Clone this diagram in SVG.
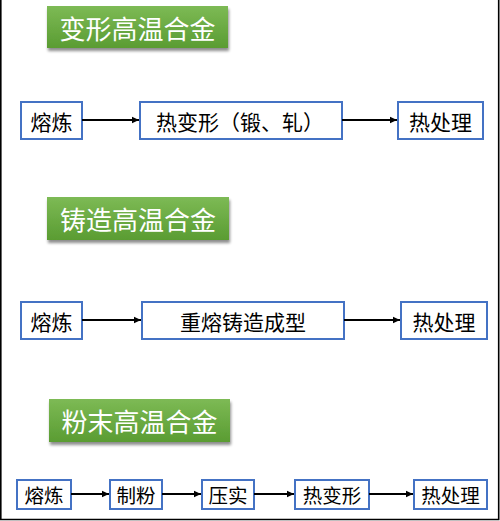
<svg xmlns="http://www.w3.org/2000/svg" width="500" height="521" viewBox="0 0 500 521">
<defs>
<linearGradient id="g" x1="0" y1="0" x2="0" y2="1">
<stop offset="0" stop-color="#7dba55"/>
<stop offset="1" stop-color="#5a9c32"/>
</linearGradient>
<filter id="sh" x="-10%" y="-20%" width="130%" height="160%">
<feGaussianBlur in="SourceAlpha" stdDeviation="1.5"/>
<feOffset dx="1" dy="3"/>
<feComponentTransfer><feFuncA type="linear" slope="0.45"/></feComponentTransfer>
<feMerge><feMergeNode/><feMergeNode in="SourceGraphic"/></feMerge>
</filter>
<marker id="ah" markerWidth="8" markerHeight="8" refX="7" refY="4" orient="auto" markerUnits="userSpaceOnUse">
<path d="M0,0.8 L7,4 L0,7.2 Z" fill="#000"/>
</marker>
</defs>
<style>
.t{fill:url(#g);filter:url(#sh)}
.tt{font-family:"Noto Sans CJK SC",sans-serif;font-size:26px;fill:#fff;text-anchor:middle;dominant-baseline:central}
.b{fill:#fff;stroke:#4472c4;stroke-width:2}
.bt{font-family:"Noto Sans CJK SC",sans-serif;font-size:21px;fill:#000;text-anchor:middle;dominant-baseline:central}
.s{font-size:19.5px}
.c{stroke:#000;stroke-width:1.8;fill:none;marker-end:url(#ah)}
</style>
<rect x="0" y="0" width="500" height="521" fill="#fff"/>
<path d="M0.8,0 V519.5 H498.7 V0" fill="none" stroke="#000" stroke-width="1.6"/>

<g id="title1"><rect class="t" x="47" y="6" width="181" height="42"/><text class="tt" x="137.5" y="27">变形高温合金</text></g>
<g id="title2"><rect class="t" x="47" y="197" width="182" height="43"/><text class="tt" x="138" y="218.5">铸造高温合金</text></g>
<g id="title3"><rect class="t" x="49" y="399" width="181" height="43"/><text class="tt" x="139.5" y="420.5">粉末高温合金</text></g>

<g id="r1n1"><rect class="b" x="21" y="102" width="61" height="37"/><text class="bt" x="51.5" y="120.5">熔炼</text></g>
<g id="r1n2"><rect class="b" x="140" y="102" width="202" height="37"/><text class="bt" x="240" y="120.5">热变形（锻、轧）</text></g>
<g id="r1n3"><rect class="b" x="398" y="102" width="85" height="37"/><text class="bt" x="440.5" y="120.5">热处理</text></g>

<g id="r2n1"><rect class="b" x="21" y="302" width="61" height="37"/><text class="bt" x="51.5" y="320.5">熔炼</text></g>
<g id="r2n2"><rect class="b" x="142" y="302" width="202" height="37"/><text class="bt" x="243" y="320.5">重熔铸造成型</text></g>
<g id="r2n3"><rect class="b" x="401" y="302" width="86" height="37"/><text class="bt" x="444" y="320.5">热处理</text></g>

<g id="r3n1"><rect class="b" x="17" y="480" width="54" height="29"/><text class="bt s" x="44" y="494.5">熔炼</text></g>
<g id="r3n2"><rect class="b" x="110" y="480" width="52" height="29"/><text class="bt s" x="136" y="494.5">制粉</text></g>
<g id="r3n3"><rect class="b" x="202" y="480" width="52" height="29"/><text class="bt s" x="228" y="494.5">压实</text></g>
<g id="r3n4"><rect class="b" x="295" y="480" width="74" height="29"/><text class="bt s" x="332" y="494.5">热变形</text></g>
<g id="r3n5"><rect class="b" x="414" y="480" width="73" height="29"/><text class="bt s" x="450.5" y="494.5">热处理</text></g>

<g id="connectors">
<line class="c" x1="82" y1="120" x2="139" y2="120"/>
<line class="c" x1="342" y1="120" x2="397" y2="120"/>
<line class="c" x1="82" y1="320" x2="141" y2="320"/>
<line class="c" x1="344" y1="320" x2="400" y2="320"/>
<line class="c" x1="71" y1="494" x2="109" y2="494"/>
<line class="c" x1="162" y1="494" x2="201" y2="494"/>
<line class="c" x1="254" y1="494" x2="294" y2="494"/>
<line class="c" x1="369" y1="494" x2="413" y2="494"/>
</g>
</svg>
